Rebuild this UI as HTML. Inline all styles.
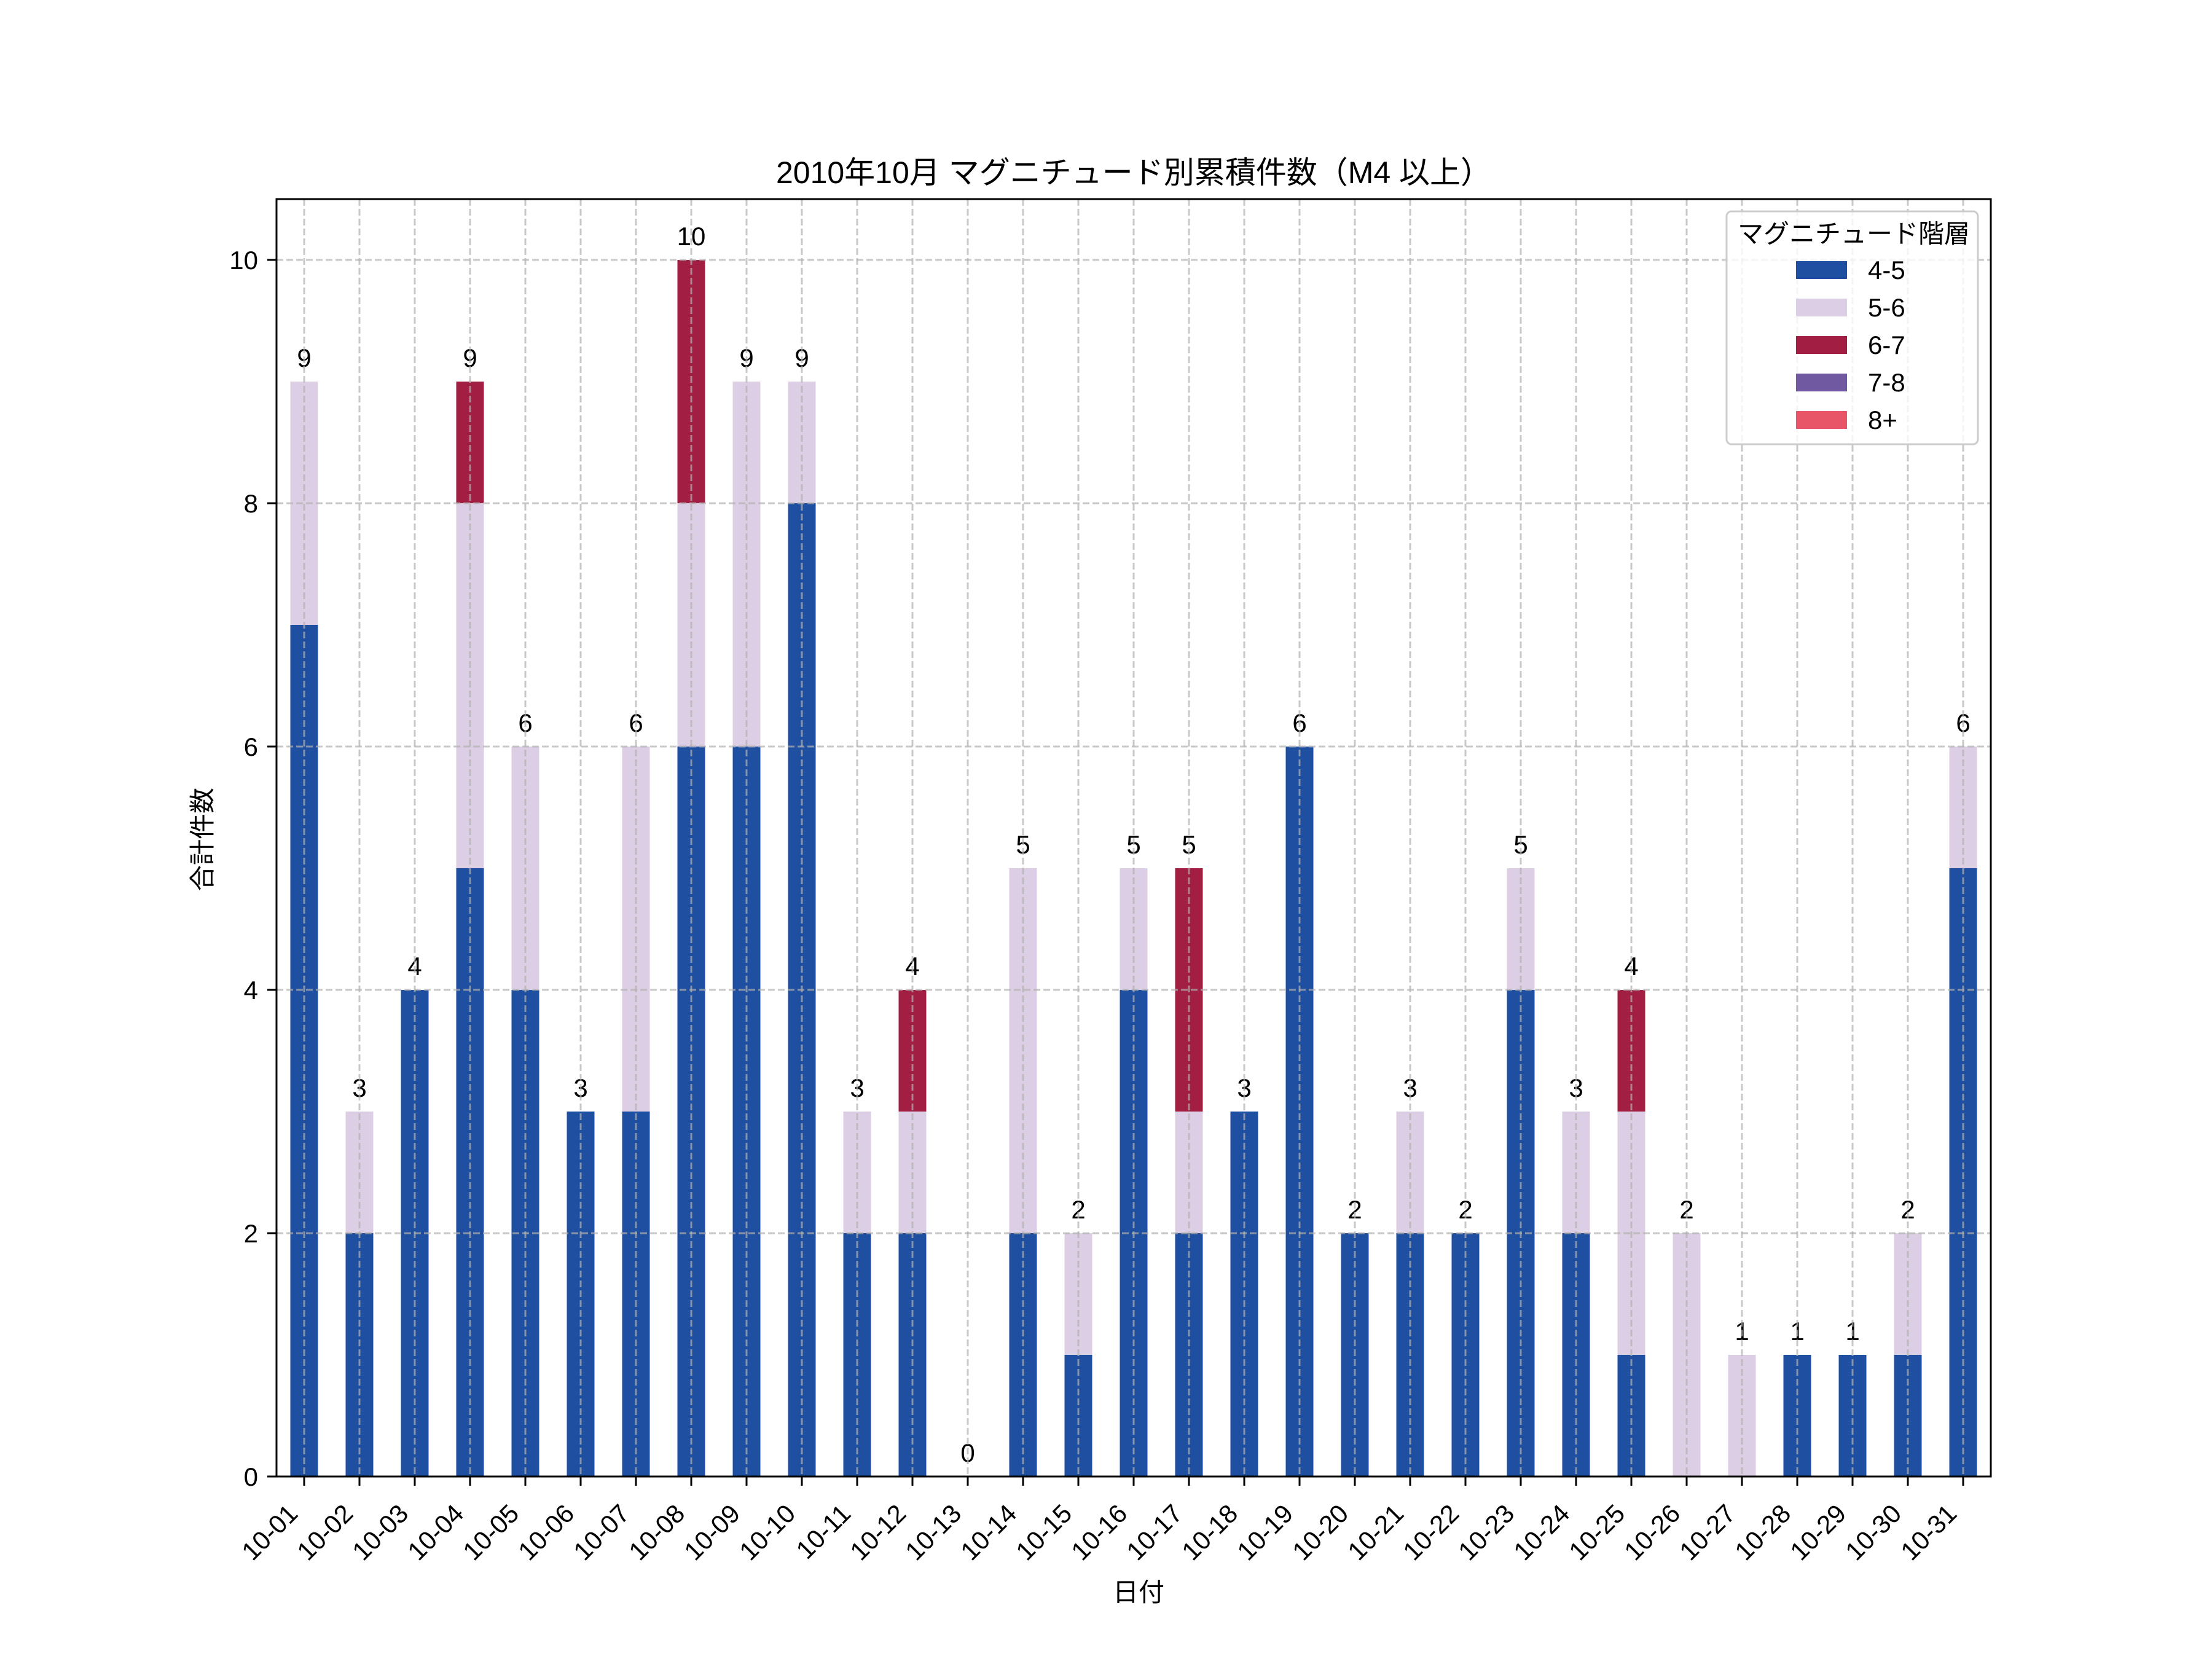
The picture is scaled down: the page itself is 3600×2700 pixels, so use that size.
<!DOCTYPE html>
<html><head><meta charset="utf-8"><style>html,body{margin:0;padding:0;background:#fff}svg{display:block}text{font-family:"Liberation Sans","Noto Sans CJK JP",sans-serif;fill:#000}</style></head><body>
<svg id="s" width="3600" height="2700" viewBox="0 0 3600 2700" xmlns="http://www.w3.org/2000/svg">
<rect width="3600" height="2700" fill="#fff"/>
<g id="bars"></g>
<g id="grid" stroke="#b0b0b0" stroke-opacity="0.7" stroke-width="3" stroke-dasharray="11 5" fill="none"></g>
<rect x="450" y="324" width="2790" height="2079" fill="none" stroke="#000" stroke-width="3"/>
<g id="ticks"></g>
<text x="1845" y="298" font-size="50" text-anchor="middle">2010年10月 マグニチュード別累積件数（M4 以上）</text>
<text x="1853" y="2606" font-size="42" text-anchor="middle">日付</text>
<text transform="translate(344,1366) rotate(-90)" font-size="42" text-anchor="middle">合計件数</text>
<g id="legend">
<rect x="2810" y="344" width="409" height="379" rx="8" fill="#fff" fill-opacity="0.8" stroke="#cccccc" stroke-width="3"/>
<text x="3017" y="395" font-size="42" text-anchor="middle">マグニチュード階層</text>
<rect x="2923" y="425" width="83" height="29" fill="#1f4fa0"/><text x="3040" y="454" font-size="42">4-5</text>
<rect x="2923" y="486" width="83" height="29" fill="#dccfe5"/><text x="3040" y="515" font-size="42">5-6</text>
<rect x="2923" y="547" width="83" height="29" fill="#a21f43"/><text x="3040" y="576" font-size="42">6-7</text>
<rect x="2923" y="608" width="83" height="29" fill="#7159a1"/><text x="3040" y="637" font-size="42">7-8</text>
<rect x="2923" y="669" width="83" height="29" fill="#e85468"/><text x="3040" y="698" font-size="42">8+</text>
</g>
</svg>
<script>
var d=[[7,2,0],[2,1,0],[4,0,0],[5,3,1],[4,2,0],[3,0,0],[3,3,0],[6,2,2],[6,3,0],[8,1,0],[2,1,0],[2,1,1],[0,0,0],[2,3,0],[1,1,0],[4,1,0],[2,1,2],[3,0,0],[6,0,0],[2,0,0],[2,1,0],[2,0,0],[4,1,0],[2,1,0],[1,2,1],[0,2,0],[0,1,0],[1,0,0],[1,0,0],[1,1,0],[5,1,0]];
var cols=["#1f4fa0","#dccfe5","#a21f43"];
function Y(v){return 2403-198*v;}
var b="",g="",t="",NS="http://www.w3.org/2000/svg";
for(var i=0;i<31;i++){var xc=495+90*i,acc=0;
for(var k=0;k<3;k++){var v=d[i][k];if(v>0){b+='<rect x="'+(xc-22.5)+'" y="'+Y(acc+v)+'" width="45" height="'+(198*v)+'" fill="'+cols[k]+'"/>';}acc+=v;}
b+='<text x="'+xc+'" y="'+(Y(acc)-24)+'" font-size="42" text-anchor="middle">'+acc+'</text>';
g+='<line x1="'+xc+'" y1="324" x2="'+xc+'" y2="2403"/>';
t+='<line x1="'+xc+'" y1="2403" x2="'+xc+'" y2="2418" stroke="#000" stroke-width="3"/>';
var dd=(i+1<10?"0":"")+(i+1);
t+='<text transform="translate('+(xc-8)+',2466) rotate(-45)" font-size="42" text-anchor="end">10-'+dd+'</text>';}
for(var v=0;v<=10;v+=2){var y=Y(v);if(v>0)g+='<line x1="450" y1="'+y+'" x2="3240" y2="'+y+'"/>';
t+='<line x1="435" y1="'+y+'" x2="450" y2="'+y+'" stroke="#000" stroke-width="3"/>';
t+='<text x="420" y="'+(y+15)+'" font-size="42" text-anchor="end">'+v+'</text>';}
document.getElementById("bars").innerHTML=b;document.getElementById("grid").innerHTML=g;document.getElementById("ticks").innerHTML=t;
</script>
</body></html>
